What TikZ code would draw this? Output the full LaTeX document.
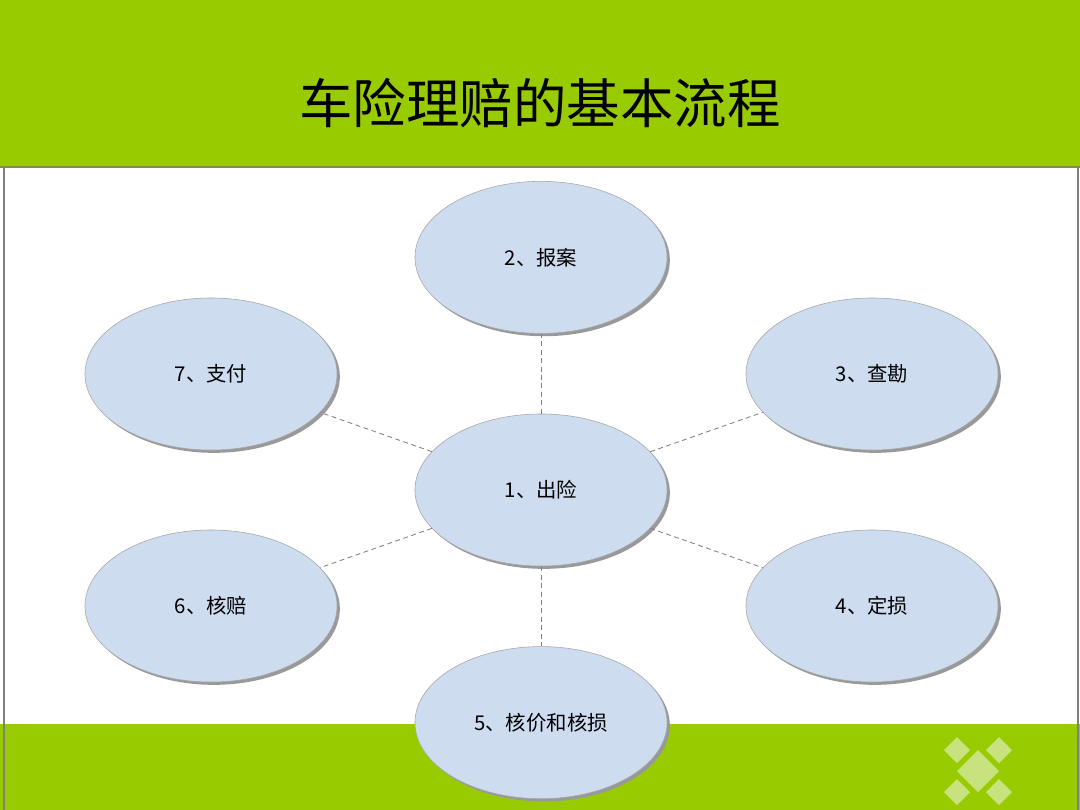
\documentclass[tikz,border=0pt]{standalone}
\usepackage{fontspec}
\setmainfont{Noto Sans CJK SC}
\usepackage{tikz}
\usepackage{xcolor}
\usetikzlibrary{positioning,shapes.geometric,shadows}
\definecolor{slgreen}{RGB}{153,204,0}
\definecolor{sldiamond}{RGB}{200,226,128}
\definecolor{slblue}{RGB}{206,220,240}

\begin{document}
\begin{tikzpicture}[
  x=0.025cm, y=-0.025cm,
  font=\fontsize{14.5}{16}\selectfont,
  stage/.style={draw=gray!70, ellipse, minimum width=6.3cm, minimum height=3.8cm, inner sep=0pt,
    fill=slblue, drop shadow={shadow xshift=2pt, shadow yshift=-2pt, fill=gray!80, opacity=1}},
  link/.style={gray, line width=0.6pt, dash pattern=on 3.5pt off 2.5pt},
  tile/.style={fill=sldiamond, draw=none}
]

\useasboundingbox (0,0) rectangle (1080,810);
\fill[white] (0,0) rectangle (1080,810);

% bands and frame
\fill[slgreen] (0,0) rectangle (1080,166);
\fill[slgreen] (0,724) rectangle (1080,810);
\draw[olive!60!gray, line width=1.2pt] (0,167) -- (1080,167);
\draw[gray, line width=1.5pt] (4,167) -- (4,810);
\draw[gray, line width=1.5pt] (1078,167) -- (1078,810);

\node (title) at (540,103) {\fontsize{38}{40}\selectfont 车险理赔的基本流程};

% tiles
\foreach \cx/\cy/\r in {957/750/13, 999/750/13, 978/771/21, 957/792/13, 999/792/13}
  \fill[tile] (\cx-\r,\cy) -- (\cx,\cy-\r) -- (\cx+\r,\cy) -- (\cx,\cy+\r) -- cycle;

\node[stage] (out) at (541,490) {1、出险};
\node[stage, above=2.0cm of out] (report) {2、报案};
\node[stage] (survey) at (872,374) {3、查勘};
\node[stage] (damage) at (872,606) {4、定损};
\node[stage, below=2.0cm of out] (verify) {5、核价和核损};
\node[stage] (claim) at (211,606) {6、核赔};
\node[stage] (pay) at (211,374) {7、支付};

\draw[link] (out) -- (report);
\draw[link] (out) -- (survey);
\draw[link] (out) -- (damage);
\draw[link] (out) -- (verify);
\draw[link] (out) -- (claim);
\draw[link] (out) -- (pay);

\end{tikzpicture}
\end{document}
